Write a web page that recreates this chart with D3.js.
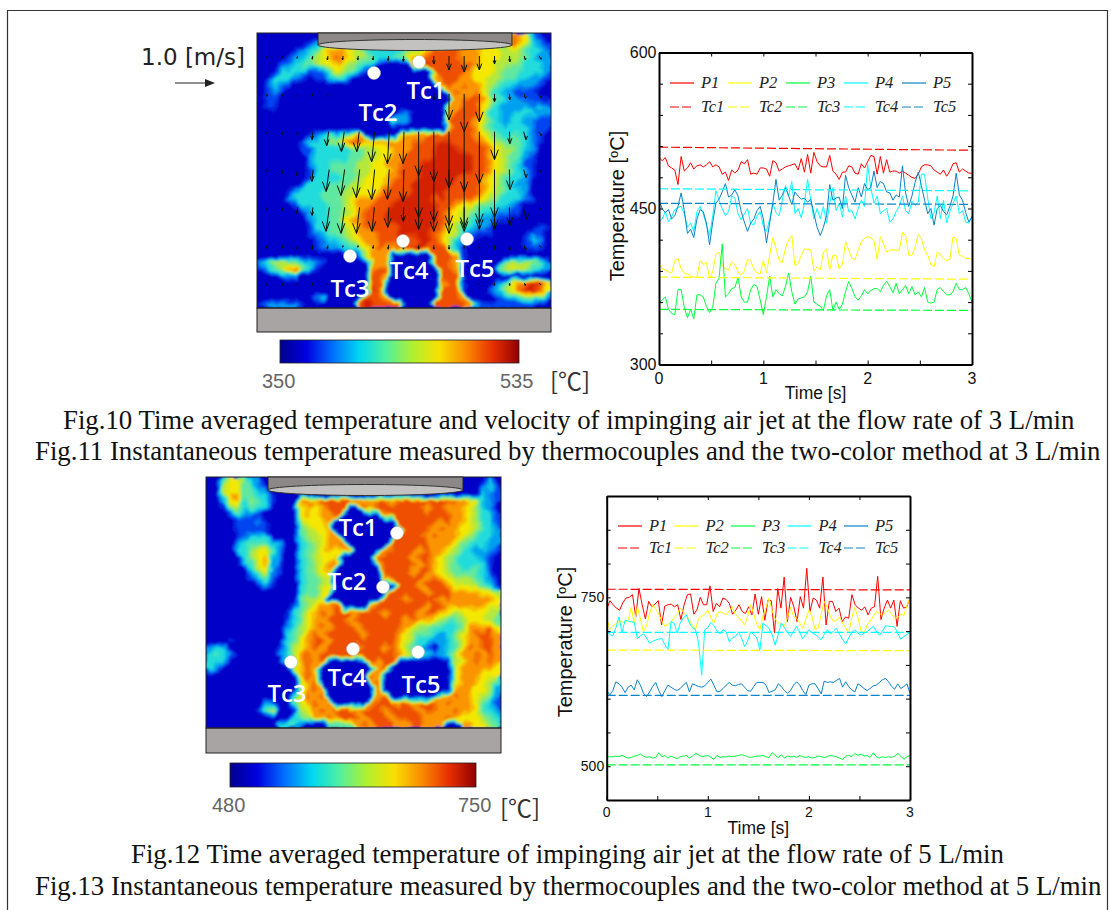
<!DOCTYPE html>
<html>
<head>
<meta charset="utf-8">
<script src="https://cdn.jsdelivr.net/npm/d3@7"></script>
<style>
  html, body { margin: 0; background: #fff; }
  svg { display: block; }
  .axis path, .axis line { stroke: #000; }
  .sans { font-family: "Liberation Sans", Arial, sans-serif; }
  .cap { font-family: "Liberation Serif", "Times New Roman", serif; font-size: 26.8px; fill: #111; }
  .leg { font-family: "Liberation Serif", "Times New Roman", serif; font-size: 16.5px; font-style: italic; fill: #222; }
  .tc { font-family: "Open Sans", sans-serif; font-size: 24px; font-weight: 600; fill: #fff; text-anchor: middle; }
</style>
</head>
<body>
<script>
// Temperature fields, level 0 (coldest) .. 9 (hottest)
const fieldA = [
  "000000000000000000000000000000000000876310",
  "000000012356665432222222345788776654876321",
  "000001234677765433334556788887776665654332",
  "000012345678765543344678888887776665554322",
  "000123445667654430000088988888876655543332",
  "001333311246543100000000088888766654443332",
  "013332101134310000000000078887766554433221",
  "013210000000000000000000006878776543322210",
  "012100000000000000000000000787786432211100",
  "011000000000000000000000000078887543222111",
  "011000000000000000000000000778886432223232",
  "000000000000000000002200000788885332333322",
  "000000000000000000052200000888876432332211",
  "000000000000000000000000000788875433333211",
  "000000012343457000006777888888876543443210",
  "000000133355788777777788889988887654443210",
  "000000113333344556677788899998888765543200",
  "000000023333344556677888899999988765442100",
  "000000023344445566778889999999988765431100",
  "000000013344445566678889999999988765432100",
  "000000013333445666778889999998887654332100",
  "000000133344455666788899999988887654322000",
  "000013333444556667888899999888887654332000",
  "000023333444567778889999989888876543332100",
  "000001333344567788899999998876654433210000",
  "000000123344567888999999998765543322110000",
  "000000023344677888999999998765432211000000",
  "000000013344567888889999988654322100000011",
  "000000012344567778889999987653211100001210",
  "000000001233456778888889987532100000001320",
  "000000001222344678778899888431000000001110",
  "000000000000002577700000088871000000000000",
  "245554432100000077700000088871000004555542",
  "134578531000000078800000008871000045665432",
  "000123000000000088700000008880000000000000",
  "000000000000000088000000007881000024678986",
  "000000000000000098000000008881000235689986",
  "000000002300000988700000008887000012345542",
  "122222100000008998888000088888721111111100"
];
const fieldB = [
  "004664320000000000000000000000000000000130",
  "005664421000000000000000000000000000000231",
  "005774433100000000000000000000000000000321",
  "003673543100077788888877887888888888776321",
  "001453433000067678880087888888878877765320",
  "000132210000067677800000078888888887765331",
  "000011121000056667000000000888888787765331",
  "000011111000045667000000000088887877665432",
  "000012333000045567700000000888878777654332",
  "000023444320034567780000008888887776543322",
  "000033566420034567677000078888787765432321",
  "000003567320034566700000888887887654333210",
  "000003467220034567700000788888787654334310",
  "000000356210034567000000088887887654444310",
  "000000234200034456000000078888878765554320",
  "000000012100034456000000000888788876655431",
  "000000000000034466000000008888878887777665",
  "000000000000045560000000088878888787777776",
  "000000000000145677800007888888878877777766",
  "000000000001346787888788878888788765666655",
  "000000000001346778887888888878776544566654",
  "000000000002356787888788888876554433577786",
  "000000000003457878888878888765443234678887",
  "000100000003467887888888888765332234677887",
  "233000000013567878888788878754320234687887",
  "343200000023578788888888888765432245778787",
  "333000000003578780000008788000000005678787",
  "320000000000578700000000780000000006777776",
  "000000000000068700000008700000000006777666",
  "000000000000057800000007800000000006777653",
  "000000000000057870000000800000000007776652",
  "000000000000368780000000780000000778776542",
  "000000002200467878000007888787888787776431",
  "000000014600156787888788878888788778776432",
  "000000000000345778788878887888877787666543",
  "000000000033420004444787888778877700776654"
];
const levelColors = ["#0000c8", "#0044f0", "#00a0f0", "#20dcdc", "#60e8a0", "#b4e83c", "#f4e800", "#fa9400", "#ee5000", "#d42000"];
const barColors = ["#00008c", "#0000e0", "#0070ff", "#00d8f0", "#50f0a0", "#b0f030", "#f8e000", "#fa8c00", "#e83000", "#900000"];

// Velocity arrows of Fig.10, m/s, one list per arrow row
const speedRows = [
  [.04, .04, .06, .08, .1, .1, .1, .1, .12, .14, .14, .2, .35, .4, .35, .2, .15, .1, .08],
  [.06, .06, .06, .06, .06, 0, 0, 0, 0, 0, 0, .15, .65, .95, .7, .2, .15, .12, .1],
  [.05, .08, .08, .2, .35, .5, .5, .75, .8, .8, 1.1, 1.25, 1.4, 1.5, 1.3, .7, .3, .2, .1],
  [.06, .1, .15, .3, .55, .65, .7, .75, .75, .8, 1.2, 1.3, 1.4, 1.45, 1.35, 1.2, .5, .2, .05],
  [.06, .08, .15, .2, .6, .65, .65, .6, .5, .35, .55, .6, .65, .6, .55, .55, .45, .3, .05],
  [.08, .08, .1, .1, .1, .05, .05, .08, .1, .1, .1, .1, .1, .08, .08, .1, .12, .12, .05],
  [.06, .06, .06, .06, .06, 0, 0, 0, 0, 0, 0, 0, 0, 0, .05, .06, .06, .06, .05]
];
const arrowLean = [-.1, -.1, -.1, -.1, -.14, -.14, -.12, -.1, -.06, -.03, 0, 0, 0, 0, 0, 0, .03, .3, .6];

// Fig.11 series, deg C, time step 3/99 s
const fig11P1 = [499,496,499,491,489,487,473,500,486,489,494,488,491,492,490,492,495,490,492,490,483,485,477,487,484,487,495,493,497,483,484,483,489,489,488,481,496,494,486,488,490,491,492,493,487,498,485,502,484,504,495,491,490,490,501,486,483,478,485,485,491,490,484,483,493,489,495,501,500,483,500,484,497,485,486,486,484,486,484,482,480,479,483,490,492,492,491,487,485,483,487,481,486,493,494,485,488,486,484,484];
const fig11P2 = [397,392,391,389,388,400,402,392,388,387,385,384,384,400,396,398,383,389,406,408,395,392,391,399,396,389,386,390,401,400,392,388,387,400,388,405,422,412,400,398,412,420,424,395,397,405,411,411,410,390,394,391,408,411,391,405,405,392,396,418,410,402,401,410,418,421,423,422,419,401,423,416,408,410,410,410,410,427,424,405,405,413,425,421,410,405,396,394,408,406,402,400,401,423,421,405,404,402,402,401];
const fig11P3 = [359,362,365,353,349,348,372,372,355,345,353,344,367,367,365,356,350,355,378,383,416,365,368,373,374,384,365,360,360,372,377,375,362,348,365,385,365,372,368,366,375,388,370,358,363,364,365,370,385,360,358,356,352,366,372,352,360,353,358,370,380,373,365,362,366,372,368,371,373,373,370,376,380,375,369,378,368,372,376,368,375,367,370,365,374,360,359,360,372,374,370,367,367,370,378,372,372,374,368,360];
const fig11P4 = [438,440,447,437,442,449,451,452,445,432,436,428,447,452,445,434,424,443,467,458,450,443,447,462,460,445,439,445,450,436,434,443,447,433,428,440,455,446,443,458,472,462,476,445,450,441,455,478,458,440,450,440,452,436,455,470,448,455,442,462,447,448,440,450,458,452,492,470,455,462,445,448,450,437,440,447,452,462,448,445,457,453,456,483,483,460,440,446,462,440,458,436,447,455,462,445,448,437,436,443];
const fig11P5 = [458,450,446,449,440,443,452,465,448,426,430,422,440,449,447,436,415,437,455,459,466,474,461,463,468,462,447,437,428,436,440,448,452,440,417,436,455,478,458,463,470,462,454,466,462,459,460,456,459,445,432,424,432,443,473,458,460,461,450,482,470,463,456,470,461,474,468,470,486,470,476,474,466,465,458,463,461,491,465,452,462,475,485,472,458,445,450,434,450,453,447,444,452,462,484,463,458,446,437,442];
const fig11Tc1 = [509, 506];
const fig11Tc2 = [384, 382];
const fig11Tc3 = [353, 352];
const fig11Tc4 = [469, 467];
const fig11Tc5 = [455, 454];

// Fig.13 series
const fig13P1 = [732,745,739,734,731,742,749,750,754,721,763,739,718,744,736,740,745,709,737,739,740,736,739,717,739,754,755,725,732,750,739,739,767,729,741,736,749,747,741,725,731,739,729,726,736,724,755,725,751,716,746,745,697,763,734,780,714,750,736,714,751,734,793,729,749,746,734,780,709,744,744,729,734,714,721,719,754,739,734,731,736,724,734,736,781,717,734,746,734,746,707,745,734,736,749];
const fig13P2 = [721,702,708,711,714,714,712,716,735,712,736,718,699,708,726,739,732,725,715,707,710,713,720,725,734,728,724,716,708,702,719,722,725,731,720,712,726,729,727,724,730,736,725,721,715,709,722,739,725,710,702,722,735,749,730,718,712,709,707,720,735,722,719,712,704,718,731,722,702,704,725,744,735,722,714,716,721,712,705,697,720,735,720,700,697,709,715,722,729,726,724,728,731,725,719,720,725,723,738,749];
const fig13P3 = [514,514,514,515,514,516,514,512,513,515,516,518,515,513,514,512,513,520,514,516,512,515,513,511,514,515,516,512,515,519,517,514,515,516,513,510,516,513,514,514,515,514,515,516,517,516,514,513,514,515,515,516,514,513,520,516,513,517,512,515,514,515,513,516,514,513,514,512,513,515,514,513,514,516,515,514,512,510,515,516,514,519,516,518,515,516,513,520,514,512,514,513,514,513,515,519,515,510,514,516];
const fig13P4 = [701,695,693,705,721,698,716,715,714,713,689,693,696,690,682,685,687,688,689,680,673,714,712,697,712,719,724,712,705,702,682,635,702,705,713,708,700,696,702,699,684,690,692,699,690,677,685,699,695,690,672,712,708,704,695,679,695,712,705,698,692,700,707,698,689,695,702,698,695,692,687,695,702,696,700,704,695,688,681,690,698,702,697,694,697,699,703,707,700,694,700,708,707,707,706,697,688,692,695,698];
const fig13P5 = [613,605,612,625,622,617,609,617,620,613,628,620,608,603,610,618,624,612,603,612,620,617,614,612,615,620,624,610,622,620,618,617,619,624,629,620,610,611,615,620,624,620,619,621,622,617,612,611,618,624,624,624,620,609,611,613,622,618,612,608,612,620,625,620,612,606,620,622,622,615,607,626,624,625,624,627,630,617,625,618,613,610,622,619,615,612,615,619,620,624,628,630,625,618,614,622,615,618,622,608];
const fig13Tc1 = [762, 761];
const fig13Tc2 = [672, 671];
const fig13Tc3 = [502, 502];
const fig13Tc4 = [698, 698];
const fig13Tc5 = [605, 605];

const seriesColors = ["#ff0000", "#ffff00", "#00ff3c", "#00ffff", "#0a84c8"];
const pNames = ["P1", "P2", "P3", "P4", "P5"];
const tcNames = ["Tc1", "Tc2", "Tc3", "Tc4", "Tc5"];
const captions = [
  "Fig.10 Time averaged temperature and velocity of impinging air jet at the flow rate of 3 L/min",
  "Fig.11 Instantaneous temperature measured by thermocouples and the two-color method at 3 L/min",
  "Fig.12 Time averaged temperature of impinging air jet at the flow rate of 5 L/min",
  "Fig.13 Instantaneous temperature measured by thermocouples and the two-color method at 5 L/min"
];

const width = 1111;
const height = 910;

const svg = d3.select('body').append('svg')
  .attr('width', width)
  .attr('height', height);

const defs = svg.append('defs');
// rough up the contour edges a bit, the photos are noisy
const soft = defs.append('filter').attr('id', 'soft')
  .attr('x', '-5%').attr('y', '-5%').attr('width', '110%').attr('height', '110%');
soft.append('feTurbulence').attr('type', 'fractalNoise').attr('baseFrequency', 0.1)
  .attr('numOctaves', 2).attr('seed', 4).attr('result', 'n');
soft.append('feDisplacementMap').attr('in', 'SourceGraphic').attr('in2', 'n')
  .attr('scale', 7).attr('xChannelSelector', 'R').attr('yChannelSelector', 'G').attr('result', 'd');
soft.append('feGaussianBlur').attr('in', 'd').attr('stdDeviation', 1);

// page frame, open at the bottom
svg.append('path')
  .attr('d', d3.line()([[7.5, height], [7.5, 10.5], [1107.5, 10.5], [1107.5, height]]))
  .attr('fill', 'none').attr('stroke', '#333').attr('stroke-width', 1.2);

function drawField(field, box, id) {
  const rows = field.length;
  const cols = field[0].length;
  const values = field.flatMap(r => r.padEnd(cols, '0').split('').map(Number));
  const x = d3.scaleLinear([0, cols], [box.x0, box.x1]);
  const y = d3.scaleLinear([0, rows], [box.y0, box.y1]);
  const color = d3.scaleLinear(d3.range(10), levelColors);

  defs.append('clipPath').attr('id', id)
    .append('rect')
    .attr('x', box.x0).attr('y', box.y0)
    .attr('width', box.x1 - box.x0).attr('height', box.y1 - box.y0);

  const g = svg.append('g').attr('clip-path', `url(#${id})`);
  const inner = g.append('g').attr('filter', 'url(#soft)');
  inner.append('rect')
    .attr('x', box.x0 - 6).attr('y', box.y0 - 6)
    .attr('width', box.x1 - box.x0 + 12).attr('height', box.y1 - box.y0 + 12)
    .attr('fill', color(0));

  const contours = d3.contours().size([cols, rows]).thresholds(d3.range(0.5, 9.5, 0.5))(values);
  const path = d3.geoPath(d3.geoTransform({
    point(px, py) { this.stream.point(x(px), y(py)); }
  }));
  inner.selectAll('path').data(contours).enter().append('path')
    .attr('d', path)
    .attr('fill', d => color(d.value));

  // gray plate below and the nozzle on top
  svg.append('rect')
    .attr('x', box.x0).attr('y', box.y1)
    .attr('width', box.x1 - box.x0).attr('height', box.plate)
    .attr('fill', '#a8a4a4').attr('stroke', '#222');
  svg.append('rect')
    .attr('x', box.x0).attr('y', box.y0)
    .attr('width', box.x1 - box.x0).attr('height', box.y1 - box.y0)
    .attr('fill', 'none').attr('stroke', '#222');
  const noz = svg.append('g');
  noz.append('rect')
    .attr('x', box.nx0).attr('y', box.y0)
    .attr('width', box.nx1 - box.nx0).attr('height', box.nh)
    .attr('fill', '#8c8888').attr('stroke', '#222');
  noz.append('ellipse')
    .attr('cx', (box.nx0 + box.nx1) / 2).attr('cy', box.y0 + box.nh)
    .attr('rx', (box.nx1 - box.nx0) / 2).attr('ry', 5.5)
    .attr('fill', '#c4c2c0').attr('stroke', '#333');
}

function drawArrows() {
  const col = d3.scalePoint(d3.range(19), [267, 540]);
  const row = d3.scalePoint(d3.range(7), [56, 283]);
  const len = d3.scaleLinear([0, 1], [0, 40]);
  const g = svg.append('g').attr('fill', 'none').attr('stroke', '#0a1408').attr('stroke-width', 1);
  speedRows.forEach((speeds, r) => {
    g.selectAll(null).data(speeds).enter().append('path')
      .attr('d', (v, i) => {
        if (v === 0) return null;
        const x0 = col(i) - len(v) * arrowLean[i] * 0.5;
        const y0 = row(r);
        const x1 = x0 + len(v) * arrowLean[i];
        const y1 = y0 + len(v);
        const h = Math.min(10, len(v) * 0.45);
        const w = h * 0.38;
        return `M${x0},${y0}L${x1},${y1}M${x1 - w},${y1 - h}L${x1},${y1}L${x1 + w},${y1 - h}`;
      });
  });
}

function drawColorBar(box, labels) {
  const id = 'bar' + box.x;
  const grad = defs.append('linearGradient').attr('id', id);
  const off = d3.scaleLinear([0, barColors.length - 1], [0, 100]);
  grad.selectAll('stop').data(barColors).enter().append('stop')
    .attr('offset', (d, i) => off(i) + '%')
    .attr('stop-color', d => d);
  svg.append('rect')
    .attr('x', box.x).attr('y', box.y).attr('width', box.w).attr('height', box.h)
    .attr('fill', `url(#${id})`).attr('stroke', '#222').attr('stroke-width', 0.8);
  svg.selectAll(null).data(labels).enter().append('text')
    .attr('x', d => d.x).attr('y', d => d.y)
    .attr('font-family', d => d.unit ? '"Noto Sans CJK JP", sans-serif' : '"Liberation Sans", sans-serif')
    .attr('font-size', d => d.unit ? 24 : 20).attr('fill', d => d.unit ? '#333' : '#666')
    .text(d => d.t);
}

function drawDots(points) {
  svg.selectAll(null).data(points).enter().append('circle')
    .attr('cx', d => d[0]).attr('cy', d => d[1]).attr('r', 6.5)
    .attr('fill', '#fff').attr('stroke', '#bbb').attr('stroke-width', 0.5);
}

function drawTcLabels(labels) {
  svg.selectAll(null).data(labels).enter().append('text')
    .attr('class', 'tc')
    .attr('x', d => d[1]).attr('y', d => d[2])
    .text(d => d[0]);
}

function drawLinePlot(o) {
  const x = d3.scaleLinear([0, 3], [o.x0, o.x1]);
  const y = d3.scaleLinear(o.domain, [o.y1, o.y0]);
  const g = svg.append('g');
  const line = d3.line().x(d => x(d[0])).y(d => y(d[1]));

  o.p.forEach((vals, i) => {
    const step = 3 / (vals.length - 1);
    g.append('path')
      .datum(vals.map((v, k) => [k * step, v]))
      .attr('d', line)
      .attr('fill', 'none').attr('stroke', seriesColors[i]).attr('stroke-width', 1);
  });
  o.tc.forEach((vals, i) => {
    g.append('path')
      .datum(vals.map((v, k) => [k * 3, v]))
      .attr('d', line)
      .attr('fill', 'none').attr('stroke', seriesColors[i]).attr('stroke-width', 1.2)
      .attr('stroke-dasharray', '9,3');
  });

  // axes: labelled ones plus unlabelled ticks on the other sides
  const xTicks = d3.range(0, 3.01, 0.5);
  const yTicks = d3.range(o.domain[0], o.domain[1] + 1, o.yStep);
  const noText = s => s.selectAll('text').remove();
  const style = s => s.attr('class', 'axis').call(a => a.selectAll('.domain').attr('stroke-width', 2));
  svg.append('g').attr('transform', `translate(0,${o.y1})`).call(d3.axisBottom(x).tickValues(xTicks).tickSizeInner(-4).tickSizeOuter(0)).call(noText).call(style);
  svg.append('g').attr('transform', `translate(0,${o.y0})`).call(d3.axisTop(x).tickValues(xTicks).tickSizeInner(-4).tickSizeOuter(0)).call(noText).call(style);
  svg.append('g').attr('transform', `translate(${o.x0},0)`).call(d3.axisLeft(y).tickValues(yTicks).tickSizeInner(-4).tickSizeOuter(0)).call(noText).call(style);
  svg.append('g').attr('transform', `translate(${o.x1},0)`).call(d3.axisRight(y).tickValues(yTicks).tickSizeInner(-4).tickSizeOuter(0)).call(noText).call(style);

  const lab = svg.append('g').attr('class', 'sans').attr('fill', '#111');
  lab.selectAll(null).data([0, 1, 2, 3]).enter().append('text')
    .attr('x', d => x(d)).attr('y', o.y1 + o.tickFont + 3)
    .attr('text-anchor', 'middle').attr('font-size', o.tickFont).text(d => d);
  lab.selectAll(null).data(o.yLabels).enter().append('text')
    .attr('x', o.x0 - 2.5).attr('y', d => y(d) + o.tickFont * 0.36)
    .attr('text-anchor', 'end').attr('font-size', o.tickFont).text(d => d);
  lab.append('text')
    .attr('x', (o.x0 + o.x1) / 2).attr('y', o.xLabelY)
    .attr('text-anchor', 'middle').attr('font-size', 17.5).text('Time [s]');
  const yl = lab.append('text')
    .attr('transform', `translate(${o.yLabelX},${o.yLabelY}) rotate(-90)`)
    .attr('text-anchor', 'middle').attr('font-size', 20);
  yl.append('tspan').text('Temperature [');
  yl.append('tspan').attr('dy', -6).attr('font-size', 13).text('o');
  yl.append('tspan').attr('dy', 6).text('C]');

  // legend
  const leg = svg.append('g');
  [pNames, tcNames].forEach((names, r) => {
    const row = leg.selectAll(null).data(names).enter().append('g');
    row.append('line')
      .attr('x1', (d, i) => o.legX + i * o.legStep).attr('x2', (d, i) => o.legX + i * o.legStep + 24)
      .attr('y1', o.legY[r]).attr('y2', o.legY[r])
      .attr('stroke', (d, i) => seriesColors[i]).attr('stroke-width', 1.2)
      .attr('stroke-dasharray', r ? '9,3' : null);
    row.append('text')
      .attr('class', 'leg')
      .attr('x', (d, i) => o.legX + i * o.legStep + 31).attr('y', o.legY[r] + 5)
      .text(d => d);
  });
}

// Fig.10
drawField(fieldA, { x0: 257, x1: 551, y0: 33, y1: 308, plate: 24, nx0: 318, nx1: 512, nh: 12 }, 'clipA');
drawArrows();
drawDots([[419, 62], [374, 73], [350, 256], [403, 241], [467, 239]]);
drawTcLabels([['Tc1', 426, 99], ['Tc2', 378, 121], ['Tc3', 350, 297], ['Tc4', 409, 279], ['Tc5', 475, 277]]);
svg.append('text')
  .attr('x', 141).attr('y', 65)
  .attr('font-family', '"DejaVu Sans", sans-serif').attr('font-size', 23).attr('fill', '#222')
  .text('1.0 [m/s]');
svg.append('path')
  .attr('d', 'M175,83H206').attr('stroke', '#222').attr('stroke-width', 1).attr('fill', 'none');
svg.append('path').attr('d', 'M205,79L215,83L205,87Z').attr('fill', '#222');
drawColorBar({ x: 280, y: 340, w: 239, h: 23 }, [
  { t: '350', x: 262, y: 388 },
  { t: '535', x: 500, y: 388 },
  { t: '[℃]', x: 550, y: 390, unit: true }
]);

// Fig.11
drawLinePlot({
  x0: 659, x1: 972, y0: 52.5, y1: 364.5, domain: [300, 600], yStep: 30, yLabels: [600, 450, 300],
  p: [fig11P1, fig11P2, fig11P3, fig11P4, fig11P5],
  tc: [fig11Tc1, fig11Tc2, fig11Tc3, fig11Tc4, fig11Tc5],
  tickFont: 16, xLabelY: 399, yLabelX: 624, yLabelY: 206,
  legX: 670, legStep: 58, legY: [83, 107]
});

// Fig.12
drawField(fieldB, { x0: 206, x1: 501, y0: 477, y1: 728, plate: 25, nx0: 268, nx1: 463, nh: 13 }, 'clipB');
drawDots([[397, 533], [383, 587], [291, 662], [353, 649], [418, 652]]);
drawTcLabels([['Tc1', 358, 536], ['Tc2', 347, 590], ['Tc3', 287, 702], ['Tc4', 347, 686], ['Tc5', 421, 693]]);
drawColorBar({ x: 230, y: 763, w: 246, h: 24 }, [
  { t: '480', x: 212, y: 812 },
  { t: '750', x: 458, y: 812 },
  { t: '[℃]', x: 500, y: 817, unit: true }
]);

// Fig.13
drawLinePlot({
  x0: 606.7, x1: 910, y0: 496, y1: 800, domain: [450, 900], yStep: 50, yLabels: [750, 500],
  p: [fig13P1, fig13P2, fig13P3, fig13P4, fig13P5],
  tc: [fig13Tc1, fig13Tc2, fig13Tc3, fig13Tc4, fig13Tc5],
  tickFont: 14, xLabelY: 834, yLabelX: 572, yLabelY: 642,
  legX: 618, legStep: 56.5, legY: [526, 548]
});

// captions
const capX = [63, 35, 131, 35];
const capY = [429, 460, 863, 895];
svg.selectAll('.cap').data(captions).enter().append('text')
  .attr('class', 'cap')
  .attr('x', (d, i) => capX[i])
  .attr('y', (d, i) => capY[i])
  .text(d => d);
</script>
</body>
</html>
